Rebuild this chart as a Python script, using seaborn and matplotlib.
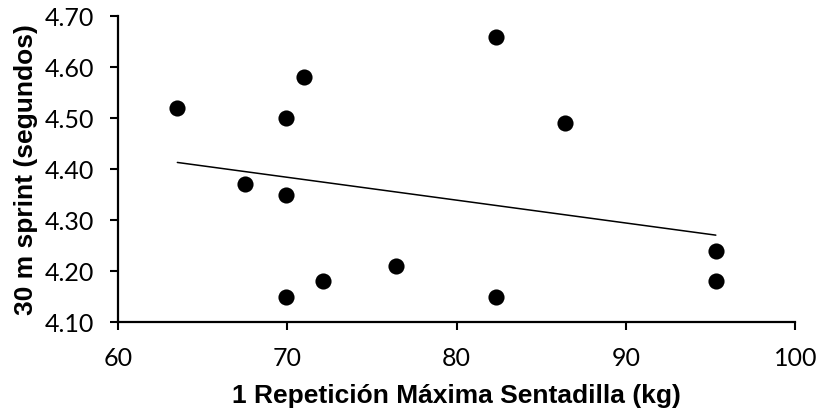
import numpy as np
import pandas as pd
import matplotlib
matplotlib.use("Agg")
import matplotlib.pyplot as plt
import seaborn as sns

# Data
squat_1rm = [63.5, 67.5, 69.9, 69.9, 69.9, 71.0, 72.1, 76.4, 82.3, 82.3, 86.4, 95.3, 95.3]
sprint_30m = [4.52, 4.37, 4.50, 4.35, 4.15, 4.58, 4.18, 4.21, 4.66, 4.15, 4.49, 4.24, 4.18]

x_ticks = [60, 70, 80, 90, 100]
y_ticks = [4.10, 4.20, 4.30, 4.40, 4.50, 4.60, 4.70]

df = pd.DataFrame({"rm": squat_1rm, "sprint": sprint_30m})

sns.set_style("ticks")
plt.rcParams["font.family"] = ["Lato", "DejaVu Sans"]

fig = plt.figure(figsize=(8.2, 4.13), dpi=100)
ax = fig.add_axes([0.144, 0.22, 0.826, 0.741])

sns.regplot(
    data=df, x="rm", y="sprint", ax=ax, ci=None, truncate=True,
    scatter_kws={"s": 135, "color": "black", "alpha": 1, "linewidths": 0, "zorder": 3},
    line_kws={"color": "black", "linewidth": 1.1},
)

ax.set_xlim(60, 100)
ax.set_ylim(4.10, 4.70)
ax.set_xticks(x_ticks)
ax.set_yticks(y_ticks)
ax.set_yticklabels([f"{v:.2f}" for v in y_ticks])

ax.tick_params(axis="both", labelsize=18, width=1.5, length=6, color="black", labelcolor="black")
ax.tick_params(axis="x", pad=12)
ax.tick_params(axis="y", pad=11)
for s in ["left", "bottom"]:
    ax.spines[s].set_linewidth(1.6)
    ax.spines[s].set_color("black")
sns.despine(ax=ax)

label_font = {"family": ["Liberation Sans", "DejaVu Sans"], "size": 19, "weight": "bold"}
ax.set_xlabel("1 Repetición Máxima Sentadilla (kg)", fontdict=label_font, labelpad=10, color="black")
ax.set_ylabel("30 m sprint (segundos)", fontdict=label_font, labelpad=5, color="black")

fig.savefig("out.png", dpi=100)
